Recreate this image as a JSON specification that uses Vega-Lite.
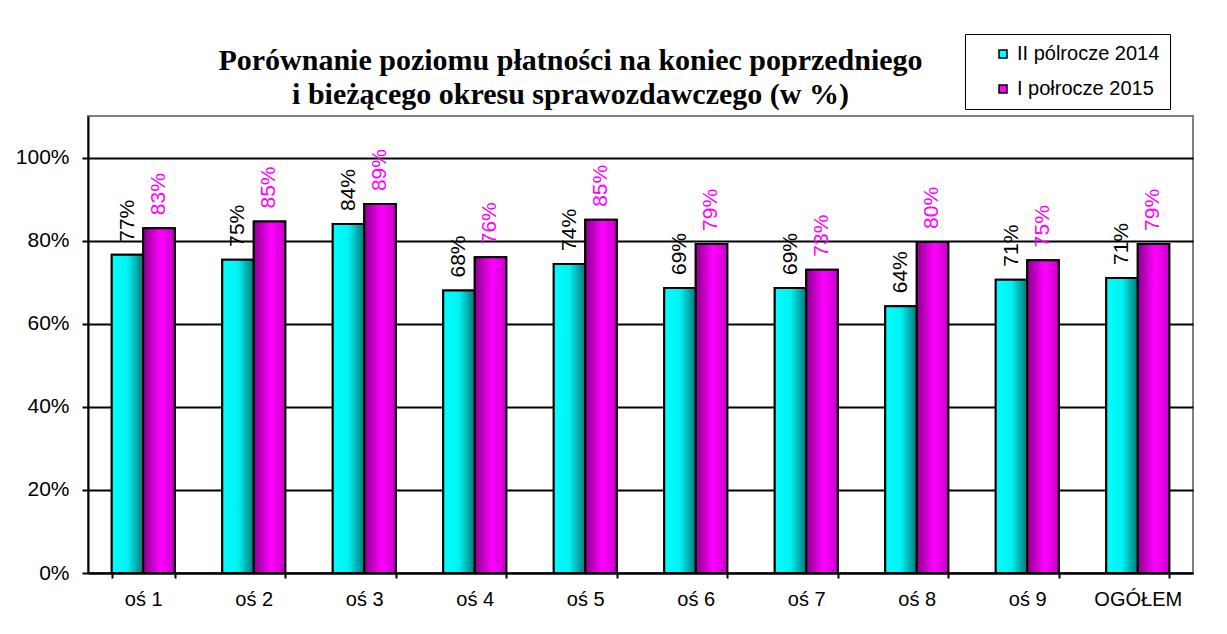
{
  "$schema": "https://vega.github.io/schema/vega-lite/v6.json",
  "width": 1105,
  "height": 457,
  "autosize": {"type": "none"},
  "padding": {"left": 88, "top": 116, "right": 34, "bottom": 61},
  "background": "white",
  "config": {
    "view": {"stroke": "#808080", "strokeWidth": 2},
    "font": "Liberation Sans"
  },
  "title": {
    "text": ["Porównanie  poziomu  płatności na koniec poprzedniego", "i bieżącego okresu sprawozdawczego  (w %)"],
    "font": "Liberation Serif",
    "fontSize": 30,
    "fontWeight": "bold",
    "color": "black",
    "anchor": "middle",
    "frame": "group",
    "baseline": "bottom",
    "lineHeight": 34,
    "offset": 4,
    "dx": -70,
    "dy": 110
  },
  "data": {
    "values": [
      {"cat": "oś 1", "s": "II pólrocze 2014", "v": 0.766},
      {"cat": "oś 1", "s": "I połrocze 2015", "v": 0.830},
      {"cat": "oś 2", "s": "II pólrocze 2014", "v": 0.754},
      {"cat": "oś 2", "s": "I połrocze 2015", "v": 0.846},
      {"cat": "oś 3", "s": "II pólrocze 2014", "v": 0.840},
      {"cat": "oś 3", "s": "I połrocze 2015", "v": 0.888},
      {"cat": "oś 4", "s": "II pólrocze 2014", "v": 0.680},
      {"cat": "oś 4", "s": "I połrocze 2015", "v": 0.760},
      {"cat": "oś 5", "s": "II pólrocze 2014", "v": 0.744},
      {"cat": "oś 5", "s": "I połrocze 2015", "v": 0.850},
      {"cat": "oś 6", "s": "II pólrocze 2014", "v": 0.686},
      {"cat": "oś 6", "s": "I połrocze 2015", "v": 0.792},
      {"cat": "oś 7", "s": "II pólrocze 2014", "v": 0.686},
      {"cat": "oś 7", "s": "I połrocze 2015", "v": 0.730},
      {"cat": "oś 8", "s": "II pólrocze 2014", "v": 0.642},
      {"cat": "oś 8", "s": "I połrocze 2015", "v": 0.797},
      {"cat": "oś 9", "s": "II pólrocze 2014", "v": 0.706},
      {"cat": "oś 9", "s": "I połrocze 2015", "v": 0.753},
      {"cat": "OGÓŁEM", "s": "II pólrocze 2014", "v": 0.710},
      {"cat": "OGÓŁEM", "s": "I połrocze 2015", "v": 0.792}
    ]
  },
  "encoding": {
    "x": {
      "field": "cat",
      "type": "nominal",
      "sort": null,
      "scale": {"paddingInner": 0.43, "paddingOuter": 0.215},
      "axis": {
        "title": null,
        "labelAngle": 0,
        "labelFontSize": 20,
        "labelColor": "black",
        "labelPadding": 11,
        "tickBand": "extent",
        "tickSize": 5,
        "tickWidth": 2,
        "tickColor": "black",
        "domainColor": "black",
        "domainWidth": 2,
        "grid": false
      }
    },
    "xOffset": {"field": "s", "type": "nominal", "scale": {"domain": ["II pólrocze 2014", "I połrocze 2015"]}},
    "y": {
      "field": "v",
      "type": "quantitative",
      "scale": {"domain": [0, 1.1], "nice": false},
      "axis": {
        "title": null,
        "values": [0, 0.2, 0.4, 0.6, 0.8, 1.0],
        "format": ".0%",
        "labelFontSize": 21,
        "labelColor": "black",
        "labelPadding": 13,
        "tickSize": 6,
        "tickWidth": 2,
        "tickColor": "black",
        "domainColor": "black",
        "domainWidth": 2,
        "grid": true,
        "gridColor": "black",
        "gridWidth": 2
      }
    }
  },
  "layer": [
    {
      "mark": {"type": "bar", "stroke": "black", "strokeWidth": 2},
      "encoding": {
        "fill": {
          "field": "s",
          "type": "nominal",
          "scale": {"domain": ["II pólrocze 2014", "I połrocze 2015"], "range": ["#00ffff", "#ff00ff"]},
          "legend": {
            "title": null,
            "orient": "none",
            "legendX": 877,
            "legendY": -82,
            "direction": "vertical",
            "strokeColor": "black",
            "fillColor": "white",
            "padding": 10,
            "symbolOffset": 18,
            "symbolType": "square",
            "symbolSize": 64,
            "symbolStrokeColor": "black",
            "symbolStrokeWidth": 1.5,
            "labelFontSize": 20,
            "labelColor": "black",
            "labelOffset": 4,
            "rowPadding": 15,
            "labelLimit": 300
          }
        }
      }
    },
    {
      "transform": [{"filter": "datum.s == 'II pólrocze 2014'"}],
      "mark": {
        "type": "bar",
        "stroke": "black",
        "strokeWidth": 2,
        "fill": {
          "gradient": "linear", "x1": 0, "y1": 0, "x2": 1, "y2": 0,
          "stops": [
            {"offset": 0, "color": "#00ffff"},
            {"offset": 0.5, "color": "#00f2f2"},
            {"offset": 1, "color": "#007878"}
          ]
        }
      }
    },
    {
      "transform": [{"filter": "datum.s == 'I połrocze 2015'"}],
      "mark": {
        "type": "bar",
        "stroke": "black",
        "strokeWidth": 2,
        "fill": {
          "gradient": "linear", "x1": 0, "y1": 0, "x2": 1, "y2": 0,
          "stops": [
            {"offset": 0, "color": "#8a008a"},
            {"offset": 0.55, "color": "#ff00ff"},
            {"offset": 1, "color": "#c800c8"}
          ]
        }
      }
    },
    {
      "mark": {"type": "text", "angle": 270, "align": "left", "baseline": "middle", "dx": 13, "fontSize": 21, "font": "Liberation Sans"},
      "encoding": {
        "text": {"field": "v", "type": "quantitative", "format": ".0%"},
        "color": {
          "condition": {"test": "datum.s == 'I połrocze 2015'", "value": "#ff00ff"},
          "value": "black"
        }
      }
    }
  ]
}
